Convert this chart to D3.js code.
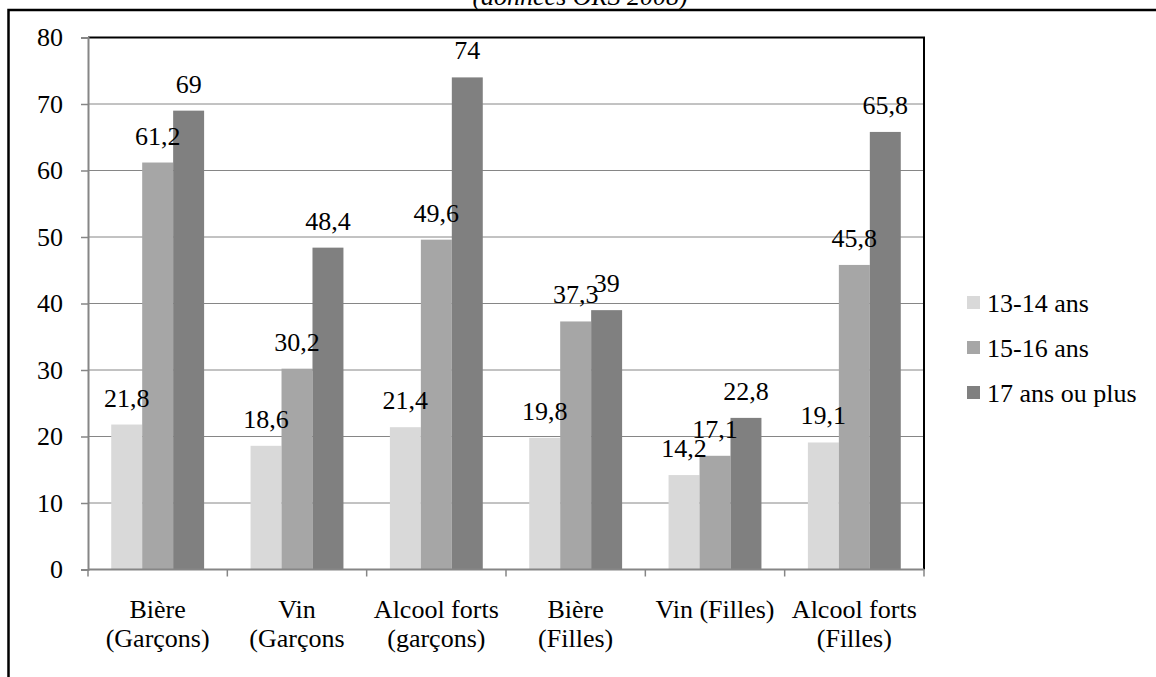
<!DOCTYPE html>
<html>
<head>
<meta charset="utf-8">
<script src="https://cdn.jsdelivr.net/npm/d3@7"></script>
</head>
<body style="margin:0;padding:0;background:#fff">
<svg id="chart" width="1156" height="677" style="display:block"></svg>
<script>
// Consommation d'alcool selon l'âge et le sexe
const categories = [
  ["Bière", "(Garçons)"],
  ["Vin", "(Garçons"],
  ["Alcool forts", "(garçons)"],
  ["Bière", "(Filles)"],
  ["Vin (Filles)"],
  ["Alcool forts", "(Filles)"]
];
const seriesNames = ["13-14 ans", "15-16 ans", "17 ans ou plus"];
const age1314 = [21.8, 18.6, 21.4, 19.8, 14.2, 19.1];
const age1516 = [61.2, 30.2, 49.6, 37.3, 17.1, 45.8];
const age17plus = [69, 48.4, 74, 39, 22.8, 65.8];
const yTicks = [0, 10, 20, 30, 40, 50, 60, 70, 80];
const subtitle = "(données ORS 2008)";

const seriesValues = [age1314, age1516, age17plus];
const colors = ["#d9d9d9", "#a6a6a6", "#808080"];

const svg = d3.select("#chart");
const plot = { left: 88, right: 924, top: 37.5, bottom: 569.5 };

function serif(sel) {
  return sel.style("font-family", "Liberation Serif").attr("font-size", 26).attr("fill", "#000");
}

// outer frame (its right and bottom edges lie beyond the page)
svg.append("rect")
  .attr("x", 8.5).attr("y", 10)
  .attr("width", 1170).attr("height", 700)
  .attr("fill", "none").attr("stroke", "#000").attr("stroke-width", 2.5);

svg.append("text")
  .attr("x", 580).attr("y", 5)
  .attr("text-anchor", "middle")
  .call(serif)
  .style("font-style", "italic")
  .text(subtitle);

const x0 = d3.scaleBand()
  .domain(d3.range(categories.length))
  .range([plot.left, plot.right])
  .paddingInner(0).paddingOuter(0);

const x1 = d3.scaleBand()
  .domain(d3.range(seriesNames.length))
  .range([0, x0.bandwidth()])
  .paddingOuter(0.75).paddingInner(0);

const y = d3.scaleLinear().domain([0, 80]).range([plot.bottom, plot.top]);

// horizontal gridlines
svg.append("g").selectAll("line")
  .data(yTicks.filter(t => t > 0 && t < 80))
  .join("line")
  .attr("x1", plot.left).attr("x2", plot.right)
  .attr("y1", d => y(d)).attr("y2", d => y(d))
  .attr("stroke", "#868686").attr("stroke-width", 1);

// bars
const groups = svg.append("g").selectAll("g")
  .data(categories.map((c, i) => i))
  .join("g")
  .attr("transform", i => `translate(${x0(i)},0)`);

groups.selectAll("rect")
  .data(i => seriesValues.map((vals, s) => ({ s, v: vals[i] })))
  .join("rect")
  .attr("x", d => x1(d.s))
  .attr("width", x1.bandwidth())
  .attr("y", d => y(d.v))
  .attr("height", d => y(0) - y(d.v))
  .attr("fill", d => colors[d.s]);

// value labels
groups.selectAll("text")
  .data(i => seriesValues.map((vals, s) => ({ s, v: vals[i] })))
  .join("text")
  .attr("x", d => x1(d.s) + x1.bandwidth() / 2)
  .attr("y", d => y(d.v) - 18)
  .attr("text-anchor", "middle")
  .call(serif)
  .text(d => String(d.v).replace(".", ","));

// plot area border: top and right in black
svg.append("path")
  .attr("d", `M${plot.left},${plot.top}H${plot.right}V${plot.bottom}`)
  .attr("fill", "none").attr("stroke", "#000").attr("stroke-width", 2);

// y axis
const yAxis = svg.append("g")
  .attr("transform", `translate(${plot.left},0)`)
  .call(d3.axisLeft(y).tickValues(yTicks).tickSize(7).tickPadding(18).tickFormat(d3.format("d")));
yAxis.select(".domain").attr("stroke", "#868686").attr("stroke-width", 2);
yAxis.selectAll(".tick line").attr("stroke", "#868686").attr("stroke-width", 1.5);
yAxis.selectAll(".tick text").call(serif);

// x axis with ticks on category boundaries
svg.append("line")
  .attr("x1", plot.left).attr("x2", plot.right)
  .attr("y1", plot.bottom).attr("y2", plot.bottom)
  .attr("stroke", "#868686").attr("stroke-width", 2);
svg.append("g").selectAll("line")
  .data(d3.range(categories.length + 1))
  .join("line")
  .attr("x1", i => plot.left + i * x0.bandwidth())
  .attr("x2", i => plot.left + i * x0.bandwidth())
  .attr("y1", plot.bottom).attr("y2", plot.bottom + 7)
  .attr("stroke", "#868686").attr("stroke-width", 1.5);

// category labels, one text per line
const catLines = [];
categories.forEach((c, i) => c.forEach((line, k) => catLines.push({ i, k, line })));
svg.append("g").selectAll("text")
  .data(catLines)
  .join("text")
  .attr("text-anchor", "middle")
  .call(serif)
  .attr("x", d => x0(d.i) + x0.bandwidth() / 2)
  .attr("y", d => 618 + d.k * 29)
  .text(d => d.line);

// legend
const legend = svg.append("g").selectAll("g")
  .data(seriesNames.map((n, s) => ({ n, s })))
  .join("g")
  .attr("transform", d => `translate(967,${303 + d.s * 45})`);
legend.append("rect")
  .attr("x", 0).attr("y", -7)
  .attr("width", 13).attr("height", 13)
  .attr("fill", d => colors[d.s]);
legend.append("text")
  .attr("x", 20).attr("y", 9)
  .call(serif)
  .text(d => d.n);
</script>
</body>
</html>
